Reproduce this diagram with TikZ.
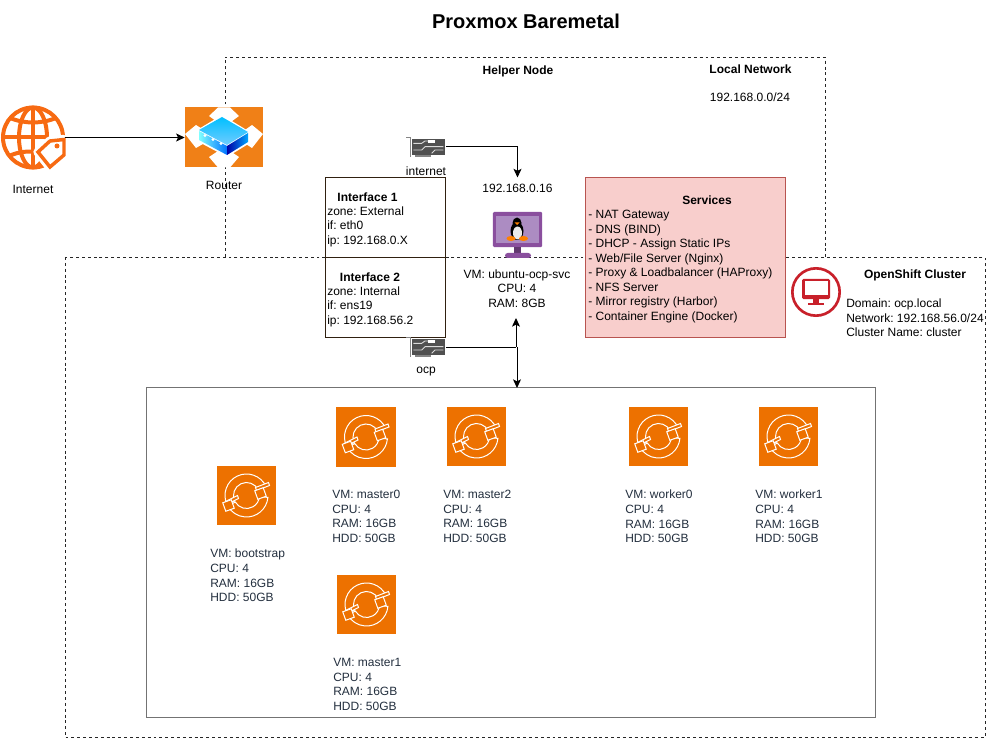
\documentclass[tikz,border=0pt]{standalone}
\usepackage{fontspec}
\setmainfont{Liberation Sans}
\usepackage{tikz}
\usetikzlibrary{arrows.meta}
\frenchspacing

\definecolor{awsorange}{HTML}{ED7100}
\definecolor{routerorange}{HTML}{F08017}
\definecolor{globeorange}{HTML}{F76A12}
\definecolor{tilelabel}{HTML}{232F3E}
\definecolor{vmpurple}{HTML}{8A4F9E}
\definecolor{vmscreen}{HTML}{AC8CC2}
\definecolor{nicgrey}{HTML}{505050}
\definecolor{clusterred}{HTML}{C8202A}
\definecolor{servicefill}{HTML}{F8CECC}
\definecolor{serviceline}{HTML}{B85450}

\tikzset{
  txt/.style={draw=none, inner sep=0pt, font=\fontsize{9}{10.9}\selectfont, align=left},
  txtc/.style={txt, align=center},
  head/.style={txt, font=\fontsize{9}{10.9}\selectfont\bfseries},
  small/.style={txt, text=tilelabel, anchor=west},
  frame/.style={draw=black!85, dash pattern=on 2.2pt off 2.2pt, line width=0.4pt},
  ifbox/.style={draw=black!75!brown, fill=white, line width=0.5pt, minimum width=90pt, minimum height=60pt, inner sep=0pt},
  tile/.style={draw=none, fill=awsorange, minimum width=44.5pt, minimum height=44.5pt, inner sep=0pt},
  nic/.style={draw=none, minimum width=30pt, minimum height=15pt, inner sep=0pt},
  link/.style={line width=0.75pt},
  tip/.style={link, -{Stealth[length=6.5pt, width=6pt, inset=1.5pt]}},
  pics/ocpring/.style={code={
    % two open bands and the two small squares
    \draw[white, line width=0.75pt, fill=awsorange]
      (-25:21.5) arc[start angle=-25, end angle=-205, radius=21.5]
      -- (-205:13) arc[start angle=-205, end angle=-25, radius=13] -- cycle;
    \draw[white, line width=0.75pt, fill=awsorange]
      (5:21.5) arc[start angle=5, end angle=150, radius=21.5]
      -- (150:13) arc[start angle=150, end angle=5, radius=13] -- cycle;
    \draw[white, line width=0.75pt, fill=awsorange] (9,-8) -- (22,-13) -- (23,-10) -- (10,-5) -- cycle;
    \draw[white, line width=0.75pt, fill=awsorange] (-21,6) -- (-9,0) -- (-8,3) -- (-20,9) -- cycle;
    \draw[white, line width=0.75pt, fill=awsorange, shift={(14,-2)}, rotate=20] (-4.5,-4.5) rectangle (4.5,4.5);
    \draw[white, line width=0.75pt, fill=awsorange, shift={(-18,10)}, rotate=20] (-4.5,-4.5) rectangle (4.5,4.5);
  }},
  pics/niccard/.style={code={
    \draw[nicgrey!70, line width=0.7pt] (-20,-10) -- (-16,-10) -- (-16,10);
    \fill[nicgrey!70] (-11,8) rectangle (5,10);
    \fill[nicgrey] (-14,-8) rectangle (19,8);
    \draw[white!85!black, line width=0.7pt] (-12.7,-3.7) -- (-4.3,-3.7) -- (-1,-6) -- (9,-6);
    \draw[white!85!black, line width=0.7pt] (-12.7,3) -- (-4.3,3) -- (-1,-0.3) -- (17.3,-0.3);
    \draw[white!85!black, line width=0.7pt] (5.7,6.3) -- (9,3) -- (17.3,3);
    \fill[white] (2,-7) rectangle (9,-4);
  }}
}

\begin{document}
\begin{tikzpicture}[x=0.75pt, y=-0.75pt]
\useasboundingbox (0,0) rectangle (986,738);

% Dashed frames and the grey box round the VMs
\draw[frame] (225,257) -- (225,57) -- (825,57) -- (825,257);
\draw[frame] (65,257) rectangle (984.8,737.5);
\draw[draw=black!55, line width=0.5pt] (146,387) rectangle (875,717);
\coordinate (vmstop) at (517,388);

\node[head, font=\fontsize{15}{18}\selectfont\bfseries] (title) at (526,21) {Proxmox Baremetal};
\node[head] (helper) at (518,71) {Helper Node};
\node[head] (localnet) at (750.5,69) {Local Network};
\node[txt] (localip) at (750,97.5) {192.168.0.0/24};

% Internet globe
\node[draw=none, minimum width=48pt, minimum height=48pt, inner sep=0pt] (globe) at (33,137.5) {};
\begin{scope}[globeorange, line width=3pt]
\draw (33,137.5) circle (30);
\draw (33,137.5) ellipse (14 and 30);
\draw (33,107) -- (33,168);
\draw (10,118) .. controls (25,124) and (41,124) .. (56,118);
\draw (3,137.5) -- (47,137.5);
\draw (9,156) .. controls (18,152) and (26,151) .. (34,152);
\draw[white, line width=7pt, line join=round] (64,139.5) -- (64,155) -- (50,167) -- (38,152) -- (50,141) -- cycle;
\draw[line width=2.6pt, line join=miter, fill=white] (64,139.5) -- (64,155) -- (50,167) -- (38,152) -- (50,141) -- cycle;
\fill (57,146) circle (2.5);
\end{scope}
\node[txt] (internetlabel) at (33,189) {Internet};

% Router
\node[draw=none, fill=routerorange, minimum width=58.5pt, minimum height=45pt, inner sep=0pt] (router) at (224,137.5) {};
\fill[white] (218,107.5) -- (230,107.5) -- (239,116) -- (224,127) -- (209,116) -- cycle;
\fill[white] (218,167.5) -- (230,167.5) -- (239,157) -- (224,147) -- (209,157) -- cycle;
\fill[white] (185,134) -- (196,125) -- (215,137) -- (196,148) -- cycle;
\fill[white] (263,134) -- (252,125) -- (235,137) -- (252,148) -- cycle;
\fill[white] (197,130) -- (222,115) -- (250,132) -- (250,143) -- (227,157) -- (197,141) -- cycle;
\shade[top color=cyan!75!blue, bottom color=cyan!45!white!80!blue] (199,130) -- (222,117) -- (248,132) -- (227,145) -- cycle;
\shade[left color=cyan!50!white, right color=blue!55!cyan] (199,131) -- (227,146) -- (227,155) -- (199,140) -- cycle;
\shade[left color=blue!65!black, right color=blue!35!cyan] (227,146) -- (248,133) -- (248,142) -- (227,155) -- cycle;
\fill[white] (205,135.5) circle (1.6);
\fill[white] (213,139.5) circle (1.6);
\fill[white] (221,143.5) circle (1.6);
\node[txt] (routerlabel) at (224,185) {Router};
\draw[tip] (globe.east) -- (router.west);

% Interface boxes
\node[ifbox] (ifone) at (385,217) {};
\node[ifbox] (iftwo) at (385,297) {};
\node[head] (ifonehead) at (367.5,197) {Interface 1};
\node[txt, anchor=west] (ifonetext) at (327,226.5) {zone: External\\if: eth0\\ip: 192.168.0.X};
\node[head] (iftwohead) at (370,277) {Interface 2};
\node[txt, anchor=west] (iftwotext) at (327,306.5) {zone: Internal\\if: ens19\\ip: 192.168.56.2};

% Network cards
\node[nic] (nicinternet) at (426,147) {};
\pic at (nicinternet.center) {niccard};
\node[txt] (nicinternetlabel) at (426,171.5) {internet};
\node[nic] (nicocp) at (426,347) {};
\pic at (nicocp.center) {niccard};
\node[txt] (nicocplabel) at (426,372) {ocp};

% Helper VM
\node[txt] (hostip) at (517.5,188) {192.168.0.16};
\node[draw=none, fill=vmpurple, rounded corners=1pt, minimum width=37pt, minimum height=26.5pt, inner sep=0pt] (vmscreenbox) at (517.5,229.5) {};
\fill[vmscreen] (496,216) rectangle (539,243);
\fill[vmpurple!70!black] (514,247) rectangle (521,253);
\fill[vmpurple, rounded corners=2pt] (505,258) -- (505,253) -- (531,253) -- (531,258) -- cycle;
% penguin
\fill[black] (517,223) ellipse (4.5 and 5.5);
\fill[black] (517,231) ellipse (6.5 and 9);
\fill[white!92!black] (517.5,233) ellipse (4.5 and 6.5);
\fill[orange] (511,238.5) ellipse (4.5 and 2.5);
\fill[orange] (523.5,238.5) ellipse (4.5 and 2.5);
\fill[orange] (514.5,222.5) -- (519.5,222.5) -- (517,225) -- cycle;
\node[txtc] (vmlabel) at (517,288.5) {VM: ubuntu-ocp-svc\\CPU: 4\\RAM: 8GB};

% Services
\node[draw=serviceline, fill=servicefill, line width=0.5pt, minimum width=150pt, minimum height=120pt, inner sep=0pt] (services) at (685,257) {};
\node[head] (serviceshead) at (707,200.5) {Services};
\node[txt, anchor=west] (servicestext) at (588,266.5) {- NAT Gateway\\- DNS (BIND)\\- DHCP - Assign Static IPs\\- Web/File Server (Nginx)\\- Proxy \& Loadbalancer (HAProxy)\\- NFS Server\\- Mirror registry (Harbor)\\- Container Engine (Docker)};

% Connections
\draw[tip] (nicinternet.east) -| ([yshift=4.5pt]hostip.north);
\coordinate (vmbelow) at (516,318);
\draw[link] (nicocp.east) -- (nicocp.east -| vmbelow);
\draw[tip] (nicocp.east -| vmbelow) -- (vmbelow);
\draw[tip] (nicocp.east -| vmstop) -- (vmstop);

% OpenShift cluster
\node[draw=clusterred, line width=2pt, circle, minimum size=35.5pt, inner sep=0pt] (clustericon) at (816,292) {};
\fill[clusterred, rounded corners=1pt] (802,279) rectangle (830,299);
\fill[white] (804.5,281) rectangle (827.5,295);
\fill[clusterred] (813,299) rectangle (819,303);
\fill[clusterred] (808,303) rectangle (824,305);
\node[head] (clusterhead) at (915,275) {OpenShift Cluster};
\node[txt, anchor=west] (clustertext) at (846,318) {Domain: ocp.local\\Network: 192.168.56.0/24\\Cluster Name: cluster};

% VM tiles
\node[tile] (bootstrap) at (246.5,495.5) {};
\pic at (bootstrap.center) {ocpring};
\node[small] (bootstraplabel) at (210,575.5) {VM: bootstrap\\CPU: 4\\RAM: 16GB\\HDD: 50GB};
\node[tile] (mastera) at (366,437) {};
\pic at (mastera.center) {ocpring};
\node[small] (masteralabel) at (332,516.5) {VM: master0\\CPU: 4\\RAM: 16GB\\HDD: 50GB};
\node[tile] (masterc) at (476.5,436.5) {};
\pic at (masterc.center) {ocpring};
\node[small] (masterclabel) at (443,516.5) {VM: master2\\CPU: 4\\RAM: 16GB\\HDD: 50GB};
\node[tile] (workera) at (658.5,436.5) {};
\pic at (workera.center) {ocpring};
\node[small] (workeralabel) at (625,516.5) {VM: worker0\\CPU: 4\\RAM: 16GB\\HDD: 50GB};
\node[tile] (workerb) at (788.5,436.5) {};
\pic at (workerb.center) {ocpring};
\node[small] (workerblabel) at (755,516.5) {VM: worker1\\CPU: 4\\RAM: 16GB\\HDD: 50GB};
\node[tile] (masterb) at (366.5,604.5) {};
\pic at (masterb.center) {ocpring};
\node[small] (masterblabel) at (333,684.5) {VM: master1\\CPU: 4\\RAM: 16GB\\HDD: 50GB};
\end{tikzpicture}
\end{document}
